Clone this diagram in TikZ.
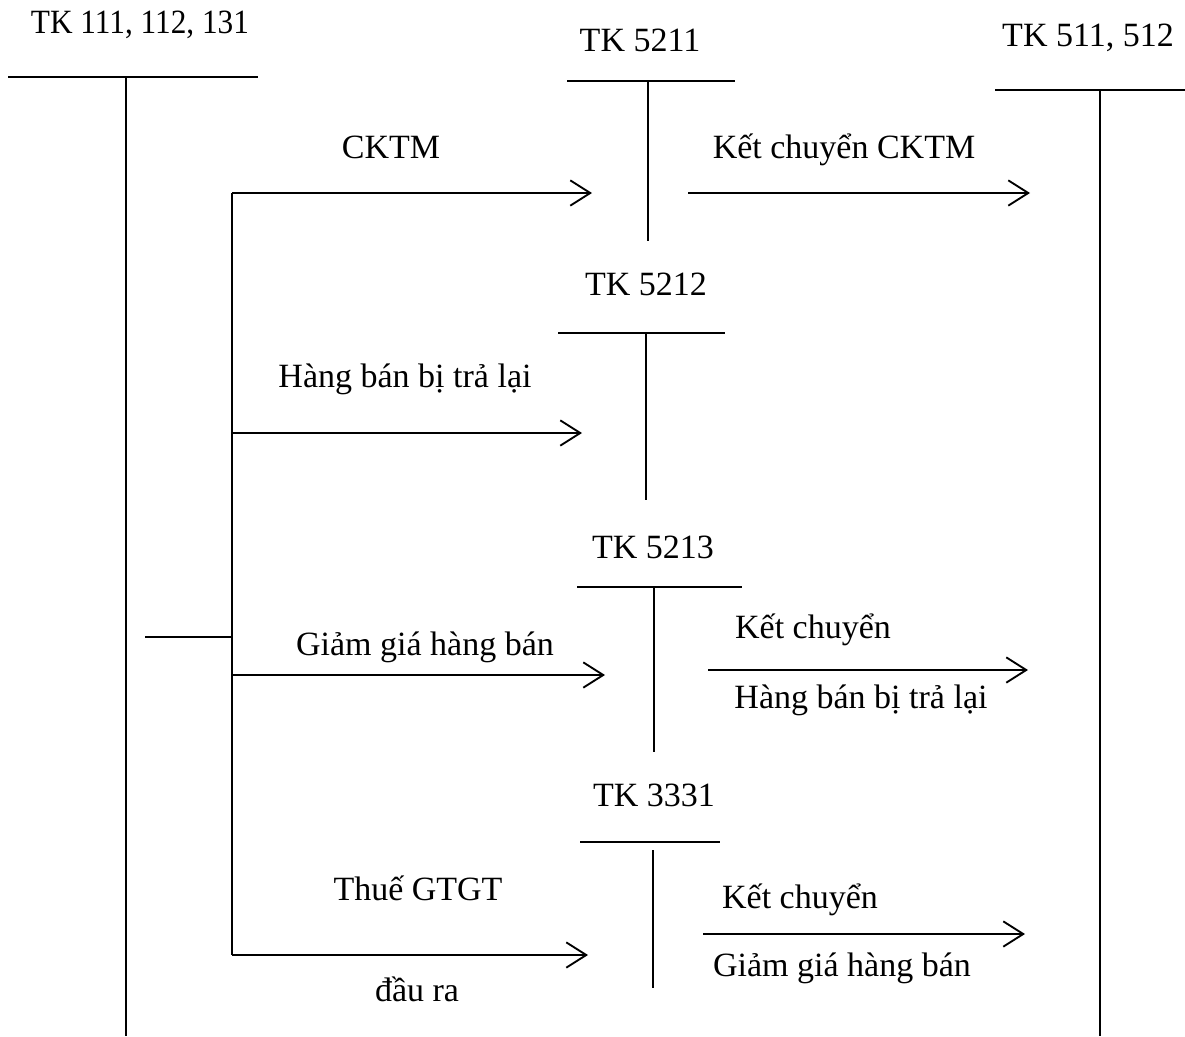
\documentclass[tikz,border=0pt]{standalone}
\usepackage{fontspec}
\setmainfont{Liberation Serif}
\usetikzlibrary{arrows.meta}
\begin{document}
\begin{tikzpicture}[x=0.75pt,y=-0.75pt,
  tline/.style={line width=1.4pt},
  flow/.style={line width=1.4pt,-{Straight Barb[length=15pt,width=19pt,line width=1.4pt]}},
  lbl/.style={font=\fontsize{25.5}{30}\selectfont,inner sep=0pt,anchor=base}]
\useasboundingbox (0,0) rectangle (1185,1036);
% account labels
\node[lbl,xscale=0.92] (t1) at (140,33) {TK 111, 112, 131};
\node[lbl] (t5211) at (640,51) {TK 5211};
\node[lbl] (t511) at (1088,46) {TK 511, 512};
\node[lbl] (t5212) at (646,295) {TK 5212};
\node[lbl] (t5213) at (653,558) {TK 5213};
\node[lbl] (t3331) at (654,806) {TK 3331};
% T accounts
\draw[tline] (8,77) -- (258,77);
\draw[tline] (126,77) -- (126,1036);
\draw[tline] (567,81) -- (735,81);
\draw[tline] (648,81) -- (648,241);
\draw[tline] (995,90) -- (1185,90);
\draw[tline] (1100,90) -- (1100,1036);
\draw[tline] (558,333) -- (725,333);
\draw[tline] (646,333) -- (646,500);
\draw[tline] (577,587) -- (742,587);
\draw[tline] (654,587) -- (654,752);
\draw[tline] (580,842) -- (720,842);
\draw[tline] (653,850) -- (653,988);
% bracket
\coordinate (btop) at (232,193);
\coordinate (bbot) at (232,955);
\coordinate (bmid) at (232,637);
\coordinate (tick) at (145,637);
\draw[tline] (btop) -- (bbot);
\draw[tline] (tick) -- (bmid);
% arrows
\coordinate (a1s) at (232,193); \coordinate (a1e) at (592,193);
\coordinate (b1s) at (688,193); \coordinate (b1e) at (1030,193);
\coordinate (a2s) at (232,433); \coordinate (a2e) at (582,433);
\coordinate (a3s) at (232,675); \coordinate (a3e) at (605,675);
\coordinate (b3s) at (708,670); \coordinate (b3e) at (1028,670);
\coordinate (a4s) at (232,955); \coordinate (a4e) at (588,955);
\coordinate (b4s) at (703,934); \coordinate (b4e) at (1025,934);
\draw[flow] (a1s) -- (a1e);
\draw[flow] (b1s) -- (b1e);
\draw[flow] (a2s) -- (a2e);
\draw[flow] (a3s) -- (a3e);
\draw[flow] (b3s) -- (b3e);
\draw[flow] (a4s) -- (a4e);
\draw[flow] (b4s) -- (b4e);
% labels
\node[lbl] (l1) at (391,158) {CKTM};
\node[lbl] (l2) at (844,158) {Kết chuyển CKTM};
\node[lbl] (l3) at (405,387) {Hàng bán bị trả lại};
\node[lbl] (l4) at (425,655) {Giảm giá hàng bán};
\node[lbl] (l5) at (813,638) {Kết chuyển};
\node[lbl] (l6) at (861,708) {Hàng bán bị trả lại};
\node[lbl] (l7) at (418,900) {Thuế GTGT};
\node[lbl] (l8) at (417,1001) {đầu ra};
\node[lbl] (l9) at (800,908) {Kết chuyển};
\node[lbl] (l10) at (842,976) {Giảm giá hàng bán};
\end{tikzpicture}
\end{document}
